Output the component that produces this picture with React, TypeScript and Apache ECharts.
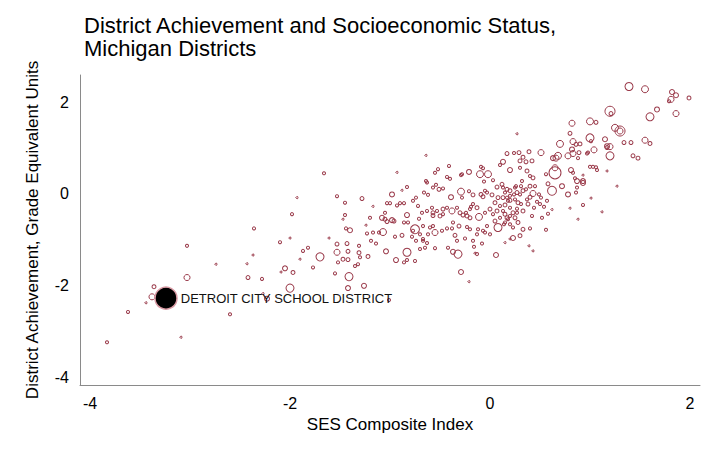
import React, { useEffect, useRef } from "react";
import * as echarts from "echarts";

const TITLE = "District Achievement and Socioeconomic Status,\nMichigan Districts";
const X_NAME = "SES Composite Index";
const Y_NAME = "District Achievement, Grade Equivalent Units";
const X_TICKS = [-4, -2, 0, 2];
const Y_TICKS = [-4, -2, 0, 2];

// [SES index, achievement (grade equivalent units), enrollment (thousands)]
const lowSesDistricts: number[][] = [
  [-3.83, -3.23, 3], [-3.62, -2.57, 3], [-3.44, -2.37, 1], [-3.38, -2.24, 12], [-3.36, -2.02, 5],
  [-3.09, -3.12, 1], [-3.03, -1.13, 3], [-3.03, -1.82, 12], [-2.74, -1.53, 1], [-2.6, -2.62, 3],
  [-2.43, -1.52, 1], [-2.42, -1.82, 5], [-2.37, -1.33, 1], [-2.36, -0.75, 3], [-2.28, -1.85, 3],
  [-2.27, -2.17, 1], [-2.23, -2.28, 8], [-2.1, -1.05, 3], [-2.09, -1.7, 1], [-2.05, -1.62, 8],
  [-2.0, -0.96, 1], [-2.0, -2.05, 21], [-1.98, -0.44, 3], [-1.97, -1.71, 5], [-1.93, -0.08, 1],
  [-1.9, -1.42, 1], [-1.87, -1.24, 3], [-1.82, -1.17, 3], [-1.77, -1.6, 3], [-1.7, -1.37, 21],
  [-1.66, 0.45, 3], [-1.61, -0.96, 1], [-1.53, -1.09, 5], [-1.53, -0.05, 3], [-1.53, -1.27, 12],
  [-1.52, -1.49, 3], [-1.55, -1.73, 3], [-1.43, -1.08, 5], [-1.47, -0.55, 1], [-1.47, -1.42, 5],
  [-1.45, -0.19, 3], [-1.45, -0.46, 3], [-1.44, -0.75, 3], [-1.42, -1.43, 5], [-1.42, -1.25, 5],
  [-1.42, -2.05, 8], [-1.41, -1.8, 21], [-1.4, -0.79, 8], [-1.35, -1.57, 3], [-1.31, -1.28, 5],
  [-1.31, -1.13, 3], [-1.28, -0.1, 5], [-1.3, -1.38, 3], [-1.26, -2.0, 8], [-1.24, -0.68, 1],
  [-1.22, -1.36, 5], [-1.2, -0.52, 3], [-1.17, -0.27, 1], [-1.23, -0.86, 3], [-1.17, -0.84, 3],
  [-1.11, -0.84, 3], [-1.19, -1.02, 3], [-1.14, -1.08, 3], [-1.32, -1.53, 3],
];

const midSesDistricts: number[][] = [
  [-1.08, -0.52, 8], [-1.05, -0.55, 5], [-1.03, -0.6, 5], [-0.98, -0.57, 8], [-0.96, -0.59, 5],
  [-1.05, -0.41, 3], [-1.07, -0.83, 16], [-1.04, -1.25, 8], [-1.01, -2.31, 3], [-0.98, -0.01, 8],
  [-0.94, -1.44, 8], [-0.93, 0.47, 1], [-1.03, -0.2, 3], [-1.0, -0.2, 3], [-0.93, -0.25, 3],
  [-0.9, -0.2, 3], [-0.86, -0.2, 3], [-0.88, 0.08, 1], [-0.83, 0.15, 3], [-0.83, -0.46, 8],
  [-0.86, -0.62, 3], [-0.82, -0.62, 3], [-0.77, -0.15, 3], [-0.74, -0.08, 3], [-0.75, -0.77, 26],
  [-0.77, -0.8, 3], [-0.83, -1.27, 21], [-0.74, -1.02, 3], [-0.67, -1.02, 3], [-0.71, -0.54, 3],
  [-0.86, -1.49, 3], [-0.83, -1.44, 3], [-0.75, -1.46, 3], [-0.95, -0.93, 3], [-0.88, -0.9, 5],
  [-0.78, -0.93, 3], [-0.64, 0.84, 1], [-0.64, 0.28, 3], [-0.63, 0.25, 3], [-0.66, 0.03, 3],
  [-0.62, -0.02, 3], [-0.57, -0.47, 5], [-0.5, -0.48, 5], [-0.47, -0.44, 3], [-0.57, -0.7, 3],
  [-0.55, -0.84, 12], [-0.54, 0.2, 3], [-0.57, 0.14, 3], [-0.52, 0.54, 3], [-0.55, 0.46, 3],
  [-0.51, 0.1, 5], [-0.47, 0.12, 3], [-0.43, 0.37, 3], [-0.4, 0.33, 3], [-0.41, 0.61, 3],
  [-0.43, -0.75, 3], [-0.38, -0.75, 3], [-0.38, -0.37, 12], [-0.39, -0.07, 8], [-0.32, -1.31, 21],
  [-0.29, -1.7, 8], [-0.37, -1.26, 8], [-0.29, 0.05, 16], [-0.28, 0.43, 3], [-0.29, 0.41, 3],
  [-0.21, 0.48, 8], [-0.21, 0.06, 3], [-0.27, -0.46, 5], [-0.23, -0.48, 5], [-0.2, -0.52, 5],
  [-0.19, -0.28, 3], [-0.17, -0.02, 5], [-0.17, -1.02, 3], [-0.16, -1.15, 3], [-0.15, -1.29, 1],
  [-0.11, -0.5, 16], [-0.72, -0.26, 3], [-0.68, -0.41, 3], [-0.63, -0.37, 3], [-0.58, -0.3, 3],
  [-0.57, -0.41, 5], [-0.53, -0.37, 3], [-0.47, -0.33, 5], [-0.43, -0.3, 3], [-0.33, -0.3, 3],
  [-0.3, -0.41, 5], [-0.24, -0.41, 3], [-0.2, -0.33, 3], [-0.17, -0.22, 3], [-0.13, -0.3, 5],
  [-0.28, -0.08, 3], [-0.67, -0.7, 3], [-0.7, -0.88, 3], [-0.67, -0.98, 3], [-0.6, -0.73, 3],
  [-0.48, -0.8, 3], [-0.37, -0.62, 3], [-0.31, -0.7, 5], [-0.23, -0.72, 3], [-0.2, -0.77, 3],
  [-0.12, -0.77, 3], [-0.07, -0.8, 3], [-0.03, -0.7, 3], [-0.65, -1.17, 3], [-0.7, -1.2, 3],
  [-0.63, -1.07, 3], [-0.55, -1.18, 3], [-0.42, -1.17, 3], [-0.33, -1.02, 3], [-0.25, -0.97, 3],
  [-0.08, -1.08, 3], [-0.05, -0.84, 3], [-0.13, -1.31, 3], [-0.21, -1.91, 1], [-0.62, -0.88, 3],
  [-0.35, -0.9, 5], [-0.13, -0.88, 3], [0.0, -0.88, 3],
];

const upperMidSesDistricts: number[][] = [
  [-0.1, 0.43, 16], [-0.02, 0.43, 16], [-0.09, 0.59, 3], [-0.07, 0.56, 3], [-0.06, 0.27, 3],
  [-0.09, -0.01, 5], [-0.07, -0.06, 5], [-0.03, 0.03, 3], [0.02, -0.02, 5], [0.03, 0.3, 3],
  [-0.05, 0.07, 3], [0.07, 0.15, 5], [0.12, 0.21, 5], [0.17, 0.1, 5], [0.15, 0.03, 3],
  [0.2, 0.07, 5], [0.25, 0.14, 3], [0.27, 0.03, 5], [0.08, -0.73, 21], [0.06, -1.33, 8],
  [0.23, -0.96, 8], [0.2, -0.98, 1], [0.3, -0.91, 5], [0.15, -1.06, 1], [0.1, 0.63, 3],
  [0.13, 0.7, 8], [0.17, 0.88, 5], [0.24, 0.89, 3], [0.29, 0.9, 5], [0.33, 0.8, 5],
  [0.39, 0.92, 5], [0.2, 0.52, 8], [0.3, 0.72, 5], [0.36, 0.7, 5], [0.42, 0.72, 5],
  [0.27, 1.31, 1], [-0.05, -0.41, 3], [0.0, -0.33, 5], [0.03, -0.44, 3], [0.07, -0.37, 5],
  [0.1, -0.52, 3], [0.15, -0.44, 5], [0.2, -0.48, 3], [0.23, -0.41, 5], [0.08, -0.08, 5],
  [0.17, -0.08, 3], [0.2, -0.14, 5], [0.25, -0.12, 3], [0.28, -0.19, 5], [0.2, -0.3, 3],
  [0.15, -0.24, 5], [0.1, -0.26, 3], [0.05, -0.19, 5], [0.05, -0.59, 5], [0.15, -0.62, 3],
  [0.2, -0.66, 3], [0.23, -0.73, 3], [0.28, -0.62, 5], [0.13, -0.37, 3], [0.17, -0.52, 5],
  [0.14, -0.66, 3], [0.13, 0.14, 3], [0.13, -0.08, 5], [0.18, -0.15, 3], [0.27, -0.32, 3],
  [0.18, -0.55, 3], [0.2, -0.04, 3], [0.3, -0.01, 3], [0.33, 0.07, 5], [0.5, -0.22, 3],
  [0.57, -0.15, 3], [0.42, -0.48, 3], [0.52, -0.52, 3], [0.58, -0.43, 3], [0.4, -0.75, 3],
  [0.56, -0.78, 3], [0.32, 0.28, 3], [0.26, 0.17, 3], [0.49, -0.01, 3], [0.51, -0.08, 3],
  [0.47, -0.17, 3], [0.54, -0.28, 3], [0.62, -0.34, 1], [0.4, -0.07, 5], [0.43, 0.01, 12],
  [0.37, -0.12, 3], [0.38, -0.22, 5], [0.31, -0.22, 3], [0.33, -0.37, 5], [0.27, -0.41, 3],
  [0.25, -0.52, 5], [0.33, -0.77, 5], [0.88, -0.55, 1], [0.8, -0.31, 1], [0.39, -1.13, 1],
  [0.43, -1.24, 1], [0.3, 0.57, 3], [0.37, 0.5, 5], [0.4, 0.39, 3], [0.43, 0.35, 5],
  [0.45, 0.17, 3], [0.4, 0.17, 5], [0.36, 0.1, 3], [0.31, 0.17, 3], [0.24, -0.01, 3],
  [0.44, -0.3, 3],
];

const highSesDistricts: number[][] = [
  [0.51, 0.9, 12], [0.63, 0.78, 8], [0.66, 0.78, 12], [0.68, 0.83, 16], [0.78, 0.83, 12],
  [0.89, 0.9, 5], [0.82, 0.97, 8], [0.83, 0.88, 12], [0.88, 0.78, 3], [0.7, 1.09, 16],
  [0.83, 1.14, 12], [0.86, 1.08, 5], [0.9, 1.09, 5], [0.8, 1.32, 5], [0.82, 1.54, 12],
  [0.65, 0.46, 47], [0.65, 0.57, 12], [0.56, 0.43, 3], [0.81, 0.52, 8], [0.83, 0.46, 3],
  [0.85, 0.34, 3], [0.87, 0.28, 8], [0.93, 0.24, 8], [0.62, 0.07, 26], [0.72, 0.17, 8],
  [0.78, -0.01, 8], [0.86, 0.03, 3], [0.87, 0.14, 3], [0.58, 0.22, 5], [1.01, -0.09, 1],
  [0.93, -0.24, 3], [1.12, -0.39, 1], [1.27, 0.17, 1], [1.17, 0.5, 1], [0.97, 0.88, 3],
  [0.98, 0.9, 3], [1.04, 0.96, 12], [1.0, 1.22, 21], [1.01, 1.15, 3], [1.15, 1.19, 8],
  [1.17, 1.04, 8], [1.2, 1.03, 12], [1.17, 1.01, 5], [1.2, 0.83, 21], [1.34, 1.12, 5],
  [1.41, 1.12, 5], [1.55, 1.17, 12], [1.6, 1.1, 5], [1.43, 0.83, 5], [1.48, 0.78, 5],
  [1.0, 0.59, 3], [1.03, 0.59, 3], [1.06, 0.58, 3], [1.07, 0.52, 3], [0.93, 0.41, 1],
  [0.93, 0.28, 8], [1.0, 1.58, 16], [1.06, 1.56, 5], [1.2, 1.8, 33], [1.21, 1.75, 5],
  [1.25, 1.44, 16], [1.3, 1.37, 33], [1.3, 1.37, 12], [1.39, 2.34, 21], [1.55, 2.28, 16],
  [1.82, 2.22, 8], [1.86, 2.15, 8], [1.81, 2.06, 12], [1.79, 2.02, 3], [1.99, 2.09, 5],
  [1.67, 1.84, 8], [1.86, 1.75, 12], [1.6, 1.68, 21],
];

const DETROIT_NAME = "DETROIT CITY SCHOOL DISTRICT";
const detroit = [-3.24, -2.27, 158];

const FONT = "'Liberation Sans', Arial, Helvetica, sans-serif";

export default function App() {
  const ref = useRef<HTMLDivElement>(null);
  useEffect(() => {
    if (!ref.current) return;
    const chart = echarts.init(ref.current, null, { renderer: "svg" });
    const sizeOf = (v: number[]) => Math.max(2, Math.sqrt(v[2]) * 1.75);
    const districts = [
      ...lowSesDistricts,
      ...midSesDistricts,
      ...upperMidSesDistricts,
      ...highSesDistricts,
    ];
    chart.setOption({
      animation: false,
      title: {
        text: TITLE,
        left: 79,
        top: 9,
        textStyle: {
          fontFamily: FONT,
          fontSize: 22,
          fontWeight: "normal",
          color: "#000",
          lineHeight: 23,
        },
      },
      grid: { left: 80, right: 19, top: 75, bottom: 76 },
      xAxis: {
        type: "value",
        min: -4.1,
        max: 2.1,
        name: X_NAME,
        nameLocation: "middle",
        nameGap: 31,
        nameTextStyle: { fontFamily: FONT, fontSize: 17, color: "#000" },
        axisLine: { show: true, onZero: false, lineStyle: { color: "#8a8a8a", width: 1 } },
        axisTick: { show: false },
        splitLine: { show: false },
        axisLabel: {
          customValues: X_TICKS,
          fontFamily: FONT,
          fontSize: 16,
          color: "#000",
          margin: 10,
        },
      },
      yAxis: {
        type: "value",
        min: -4.16,
        max: 2.59,
        name: Y_NAME,
        nameLocation: "middle",
        nameGap: 39,
        nameTextStyle: { fontFamily: FONT, fontSize: 17, color: "#000" },
        axisLine: { show: true, onZero: false, lineStyle: { color: "#8a8a8a", width: 1 } },
        axisTick: { show: false },
        splitLine: { show: false },
        axisLabel: {
          customValues: Y_TICKS,
          fontFamily: FONT,
          fontSize: 16,
          color: "#000",
          margin: 11,
        },
      },
      series: [
        {
          type: "scatter",
          data: districts,
          symbolSize: sizeOf,
          itemStyle: {
            color: "rgba(255,255,255,0)",
            borderColor: "#9a3a4a",
            borderWidth: 1,
            opacity: 1,
          },
          emphasis: { disabled: true },
        },
        {
          type: "scatter",
          data: [{ name: DETROIT_NAME, value: detroit }],
          symbolSize: sizeOf,
          itemStyle: { color: "#000", borderColor: "#d99aa4", borderWidth: 1.5, opacity: 1 },
          label: {
            show: true,
            position: "right",
            distance: 3,
            formatter: "{b}",
            fontFamily: FONT,
            fontSize: 13,
            color: "#111",
          },
          emphasis: { disabled: true },
          z: 3,
        },
      ],
    });
    return () => chart.dispose();
  }, []);
  return (
    <div
      ref={ref}
      style={{ position: "fixed", left: 0, top: 0, width: 719, height: 461, background: "#fff" }}
    />
  );
}
